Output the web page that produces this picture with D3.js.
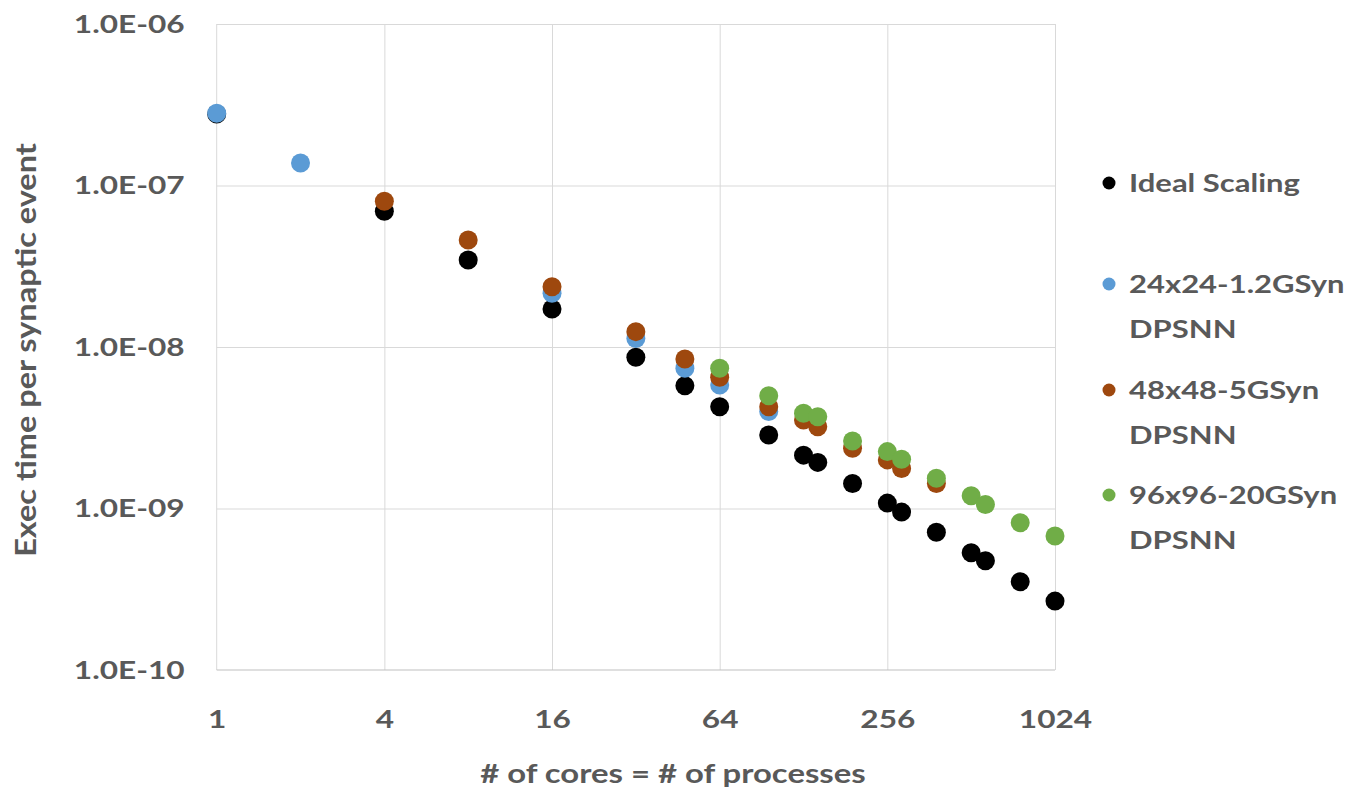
<!doctype html>
<html>
<head>
<meta charset="UTF-8">
<title>DPSNN scaling</title>
<script src="https://d3js.org/d3.v7.min.js"></script>
<style>
    body { margin: 0; background: #fff; }
    text { font-family: Lato, "Open Sans", sans-serif; font-weight: bold; fill: #595959; }
</style>
</head>
<body>
<svg width="1356" height="792"></svg>
<script>
    // values
    var idealCores = [1, 4, 8, 16, 32, 48, 64, 96, 128, 144, 192, 256, 288, 384, 512, 576, 768, 1024];
    var idealTime = [2.77e-7, 6.92e-8, 3.46e-8, 1.72e-8, 8.63e-9, 5.76e-9, 4.27e-9, 2.85e-9, 2.14e-9, 1.93e-9,
        1.43e-9, 1.08e-9, 9.5e-10, 7.12e-10, 5.32e-10, 4.75e-10, 3.52e-10, 2.67e-10];

    var cores24 = [1, 2, 16, 32, 48, 64, 96];
    var time24 = [2.80e-7, 1.38e-7, 2.15e-8, 1.13e-8, 7.38e-9, 5.82e-9, 3.98e-9];

    var cores48 = [4, 8, 16, 32, 48, 64, 96, 128, 144, 192, 256, 288, 384];
    var time48 = [7.98e-8, 4.6e-8, 2.36e-8, 1.245e-8, 8.43e-9, 6.49e-9, 4.27e-9, 3.53e-9, 3.21e-9,
        2.36e-9, 2.0e-9, 1.77e-9, 1.43e-9];

    var cores96 = [64, 96, 128, 144, 192, 256, 288, 384, 512, 576, 768, 1024];
    var time96 = [7.38e-9, 4.99e-9, 3.89e-9, 3.70e-9, 2.62e-9, 2.25e-9, 2.02e-9, 1.54e-9, 1.20e-9,
        1.06e-9, 8.17e-10, 6.76e-10];

    var xTicks = [1, 4, 16, 64, 256, 1024];
    var yTicks = [1e-10, 1e-9, 1e-8, 1e-7, 1e-6];

    var seriesNames = ["Ideal Scaling", "24x24-1.2GSyn DPSNN", "48x48-5GSyn DPSNN", "96x96-20GSyn DPSNN"];
    var seriesColors = ["#000000", "#5B9BD5", "#9E480E", "#70AD47"];

    var series = [
        { name: seriesNames[0], color: seriesColors[0], cores: idealCores, time: idealTime },
        { name: seriesNames[1], color: seriesColors[1], cores: cores24, time: time24 },
        { name: seriesNames[2], color: seriesColors[2], cores: cores48, time: time48 },
        { name: seriesNames[3], color: seriesColors[3], cores: cores96, time: time96 }
    ];

    var SX = 1.24; // the picture's lettering is stretched sideways
    var pLeft = 216.7, pRight = 1055, pTop = 24, pBottom = 670;

    var svg = d3.select("svg");

    var x = d3.scaleLog().base(2).domain([1, 1024]).range([pLeft, pRight]);
    var y = d3.scaleLog().domain([1e-10, 1e-6]).range([pBottom, pTop]);

    function expFormat(v) {
        var e = Math.round(Math.log10(v));
        var s = e < 0 ? "-" : "+";
        var a = Math.abs(e);
        return "1.0E" + s + (a < 10 ? "0" + a : a);
    }

    // gridlines
    svg.append("g")
        .attr("transform", "translate(0," + pBottom + ")")
        .call(d3.axisBottom(x).tickValues(xTicks.slice(1)).tickSize(-(pBottom - pTop)).tickFormat(""))
        .call(function(g) {
            g.select(".domain").remove();
            g.selectAll("line").attr("stroke", "#d9d9d9");
        });
    svg.append("g")
        .attr("transform", "translate(" + pLeft + ",0)")
        .call(d3.axisLeft(y).tickValues(yTicks.slice(1)).tickSize(-(pRight - pLeft)).tickFormat(""))
        .call(function(g) {
            g.select(".domain").remove();
            g.selectAll("line").attr("stroke", "#d9d9d9");
        });
    // axis lines
    svg.append("line").attr("x1", pLeft).attr("x2", pLeft).attr("y1", pTop).attr("y2", pBottom)
        .attr("stroke", "#d9d9d9");
    svg.append("line").attr("x1", pLeft).attr("x2", pRight).attr("y1", pBottom).attr("y2", pBottom)
        .attr("stroke", "#bfbfbf");

    // tick labels
    svg.append("g")
        .attr("transform", "translate(0," + pBottom + ")")
        .call(d3.axisBottom(x).tickValues(xTicks).tickSize(0).tickPadding(40).tickFormat(d3.format("d")))
        .call(function(g) {
            g.select(".domain").remove();
            g.selectAll("text").attr("font-size", 25.5).attr("fill", "#595959")
                .attr("transform", "scale(" + SX + ",1)");
        });
    svg.append("g")
        .attr("transform", "translate(" + (pLeft - 32) + ",0)")
        .call(d3.axisLeft(y).tickValues(yTicks).tickSize(0).tickPadding(0).tickFormat(expFormat))
        .call(function(g) {
            g.select(".domain").remove();
            g.selectAll("text").attr("font-size", 25.5).attr("fill", "#595959")
                .attr("transform", "scale(" + SX + ",1)");
        });

    // axis titles
    svg.append("text")
        .attr("transform", "translate(673,783) scale(" + SX + ",1)")
        .attr("text-anchor", "middle")
        .attr("font-size", 26.5)
        .text("# of cores = # of processes");
    svg.append("text")
        .attr("transform", "translate(36,350) rotate(-90) scale(1.16,1)")
        .attr("text-anchor", "middle")
        .attr("font-size", 28)
        .text("Exec time per synaptic event");

    // points
    series.forEach(function(s) {
        svg.append("g").selectAll("circle")
            .data(s.cores)
            .enter().append("circle")
            .attr("cx", function(d) { return x(d); })
            .attr("cy", function(d, i) { return y(s.time[i]); })
            .attr("r", 9.5)
            .attr("fill", s.color);
    });

    // legend
    var legendY = [183, 284, 390, 495];
    var legend = svg.append("g").selectAll("g")
        .data(series)
        .enter().append("g")
        .attr("transform", function(d, i) { return "translate(1109," + legendY[i] + ")"; });
    legend.append("circle").attr("r", 6.5).attr("fill", function(d) { return d.color; });
    var lt = legend.append("text")
        .attr("transform", "translate(20,0) scale(" + SX + ",1)")
        .attr("font-size", 25)
        .attr("dy", "0.36em");
    lt.each(function(d) {
        var parts = d.name.split(" DPSNN");
        var t = d3.select(this);
        t.append("tspan").attr("x", 0).text(parts[0]);
        if (parts.length > 1) {
            t.append("tspan").attr("x", 0).attr("dy", 45).text("DPSNN");
        }
    });
</script>
</body>
</html>
